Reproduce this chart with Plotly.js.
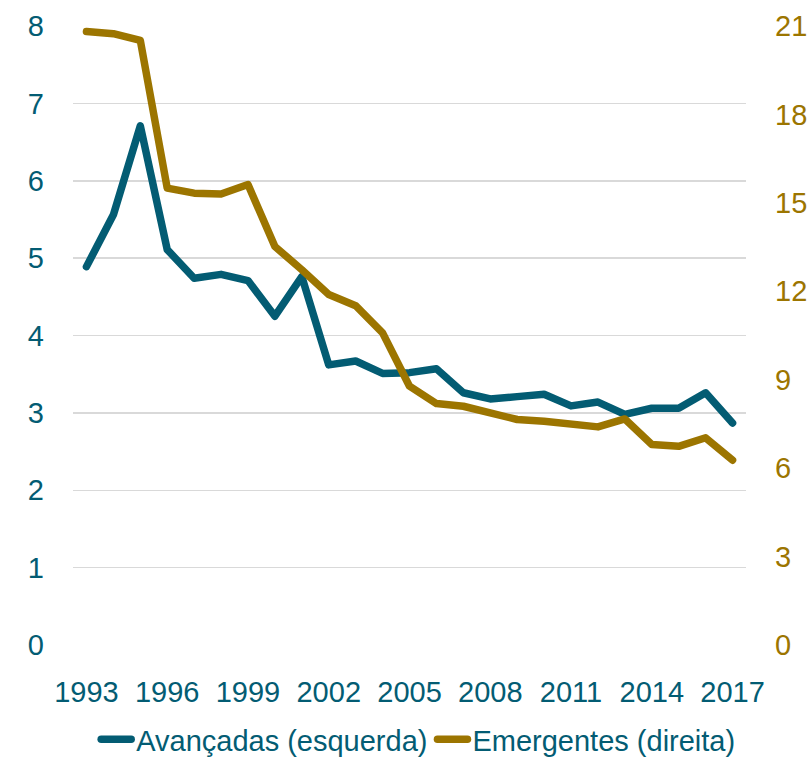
<!DOCTYPE html>
<html><head><meta charset="utf-8">
<script src="https://cdn.plot.ly/plotly-3.0.1.min.js"></script>
<style>
body{margin:0;background:#fff}
.js-line{stroke-linejoin:round;stroke-linecap:round}
</style>
</head><body>
<div id="chart" style="width:812px;height:765px"></div>
<script>
const years = [1993,1994,1995,1996,1997,1998,1999,2000,2001,2002,2003,2004,2005,2006,2007,2008,2009,2010,2011,2012,2013,2014,2015,2016,2017];
const avancadas = [4.89,5.56,6.71,5.11,4.74,4.79,4.71,4.25,4.76,3.62,3.67,3.51,3.52,3.57,3.26,3.18,3.21,3.24,3.09,3.14,2.98,3.06,3.06,3.26,2.87];
const emergentes = [20.81,20.74,20.51,15.50,15.33,15.30,15.62,13.52,12.73,11.89,11.51,10.59,8.78,8.19,8.10,7.87,7.65,7.59,7.50,7.40,7.67,6.80,6.74,7.03,6.27];
const xTicks = [1993,1996,1999,2002,2005,2008,2011,2014,2017];
const leftTicks = [0,1,2,3,4,5,6,7,8];
const rightTicks = [0,3,6,9,12,15,18,21];
const names = ['Avançadas (esquerda)','Emergentes (direita)'];

const blue = '#035c73';
const gold = '#9c7500';
const font = 'Liberation Sans, Arial, sans-serif';
const fs = 29;

const traces = [
  {x: years, y: avancadas, name: names[0], type: 'scatter', mode: 'lines',
   line: {color: blue, width: 7.5}, yaxis: 'y'},
  {x: years, y: emergentes, name: names[1], type: 'scatter', mode: 'lines',
   line: {color: gold, width: 7.5}, yaxis: 'y2'}
];

const layout = {
  width: 812, height: 765,
  margin: {l: 73, r: 66, t: 26, b: 120},
  paper_bgcolor: '#fff', plot_bgcolor: '#fff',
  font: {family: font, size: fs, color: blue},
  showlegend: true,
  legend: {orientation: 'h', x: 0.515, xref: 'container', xanchor: 'center',
           y: 0.0, yref: 'container', yanchor: 'bottom',
           font: {family: font, size: fs, color: blue}, itemwidth: 30, tracegroupgap: 0},
  xaxis: {range: [1992.5, 2017.5], tickvals: xTicks, ticktext: xTicks.map(String),
          showgrid: false, zeroline: false, showline: false, ticks: '',
          tickfont: {family: font, size: fs, color: blue}, ticklabelstandoff: 27},
  yaxis: {range: [0, 8], tickvals: leftTicks, showgrid: true, gridcolor: '#d9d9d9', gridwidth: 1.5,
          zeroline: false, showline: false, ticks: '',
          tickfont: {family: font, size: fs, color: blue}, ticklabelstandoff: 28},
  yaxis2: {range: [0, 21], tickvals: rightTicks, overlaying: 'y', side: 'right', showgrid: false,
           zeroline: false, showline: false, ticks: '',
           tickfont: {family: font, size: fs, color: gold}, ticklabelstandoff: 28}
};

Plotly.newPlot('chart', traces, layout, {displayModeBar: false, staticPlot: true});
</script>
</body></html>
